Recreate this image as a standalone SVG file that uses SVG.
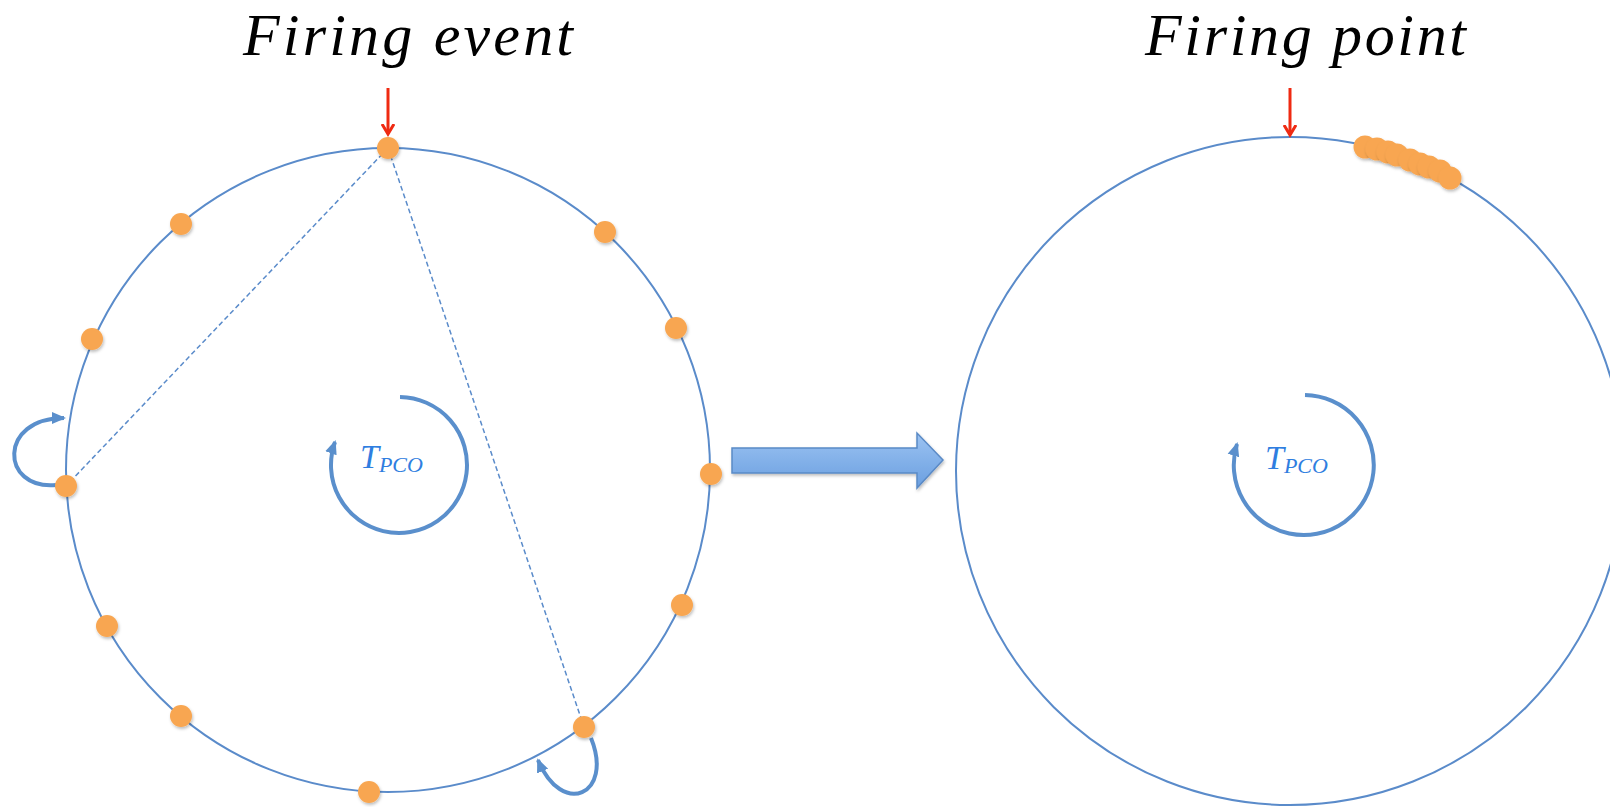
<svg xmlns="http://www.w3.org/2000/svg" width="1610" height="807" viewBox="0 0 1610 807">
<defs>
<style>
.ring{fill:none;stroke:#5a8bca;stroke-width:2}
.dot{fill:#f8a651;filter:url(#sh)}
.dash{stroke:#5a8bca;stroke-width:1.5;stroke-dasharray:5 3;fill:none}
.red{stroke:#ef2a12;stroke-width:3;fill:none}
.loop{fill:none;stroke:#5a8fcc;stroke-width:4}
.title{font-family:"Liberation Serif",serif;font-style:italic;font-size:60px;fill:#000}
.tp{font-family:"Liberation Serif",serif;font-style:italic;fill:#2f7ee0}
</style>
<filter id="sh" x="-50%" y="-50%" width="200%" height="200%">
<feDropShadow dx="1" dy="2" stdDeviation="1.5" flood-color="#000" flood-opacity="0.25"/>
</filter>
<marker id="redhead" markerWidth="14" markerHeight="14" refX="10" refY="7" orient="auto" markerUnits="userSpaceOnUse">
<path d="M0,1 L10,7 L0,13" fill="none" stroke="#ef2a12" stroke-width="3"/>
</marker>
<marker id="bluehead" markerWidth="16" markerHeight="16" refX="12" refY="8" orient="auto" markerUnits="userSpaceOnUse">
<path d="M0,2 L14,8 L0,14 Z" fill="#5a8fcc"/>
</marker>
<linearGradient id="ag" x1="0" y1="0" x2="0" y2="1">
<stop offset="0" stop-color="#9cc3f2"/>
<stop offset="1" stop-color="#6a9fe0"/>
</linearGradient>
</defs>
<rect width="1610" height="807" fill="#fff"/>

<text class="title" x="243" y="55" textLength="330">Firing event</text>
<text class="title" x="1145" y="55" textLength="321">Firing point</text>

<g id="left-cycle">
<circle class="ring" cx="388" cy="470" r="322"/>
</g>
<g id="right-cycle">
<circle class="ring" cx="1290" cy="471" r="334"/>
</g>

<g id="connectors">
<line class="dash" x1="388" y1="148" x2="66" y2="486"/>
<line class="dash" x1="388" y1="148" x2="584" y2="727"/>
<line class="red" x1="388" y1="88" x2="388" y2="134" marker-end="url(#redhead)"/>
<line class="red" x1="1290" y1="88" x2="1290" y2="135" marker-end="url(#redhead)"/>
<path class="loop" d="M56,485 C0,490 -2,418 64,418" marker-end="url(#bluehead)"/>
<path class="loop" d="M591,738 C614,795 562,818 538,760" marker-end="url(#bluehead)"/>
<path class="loop" d="M400,397 A68,68 0 1 1 335,442" marker-end="url(#bluehead)"/>
<path class="loop" d="M1305,395 A70,70 0 1 1 1237,444" marker-end="url(#bluehead)"/>
<path d="M732,448 L917,448 L917,433 L943,460 L917,488 L917,473 L732,473 Z" fill="url(#ag)" stroke="#5a8ac6" stroke-width="1.5" filter="url(#sh)"/>
</g>

<g id="left-dots">
<circle class="dot" cx="388" cy="148" r="11"/>
<circle class="dot" cx="181" cy="224" r="11"/>
<circle class="dot" cx="92" cy="339" r="11"/>
<circle class="dot" cx="66" cy="486" r="11"/>
<circle class="dot" cx="107" cy="626" r="11"/>
<circle class="dot" cx="181" cy="716" r="11"/>
<circle class="dot" cx="369" cy="792" r="11"/>
<circle class="dot" cx="584" cy="727" r="11"/>
<circle class="dot" cx="682" cy="605" r="11"/>
<circle class="dot" cx="711" cy="474" r="11"/>
<circle class="dot" cx="676" cy="328" r="11"/>
<circle class="dot" cx="605" cy="232" r="11"/>
</g>

<g id="right-dots">
<circle class="dot" cx="1365" cy="147" r="11.5"/>
<circle class="dot" cx="1377" cy="149" r="11.5"/>
<circle class="dot" cx="1388" cy="152" r="11.5"/>
<circle class="dot" cx="1397" cy="155" r="11.5"/>
<circle class="dot" cx="1410" cy="160" r="11.5"/>
<circle class="dot" cx="1420" cy="164" r="11.5"/>
<circle class="dot" cx="1429" cy="167" r="11.5"/>
<circle class="dot" cx="1440" cy="171" r="11.5"/>
<circle class="dot" cx="1450" cy="178" r="11.5"/>
</g>

<g id="left-label">
<text class="tp" x="360" y="468" font-size="34">T<tspan font-size="22" dy="4">PCO</tspan></text>
</g>
<g id="right-label">
<text class="tp" x="1265" y="469" font-size="34">T<tspan font-size="22" dy="4">PCO</tspan></text>
</g>
</svg>
